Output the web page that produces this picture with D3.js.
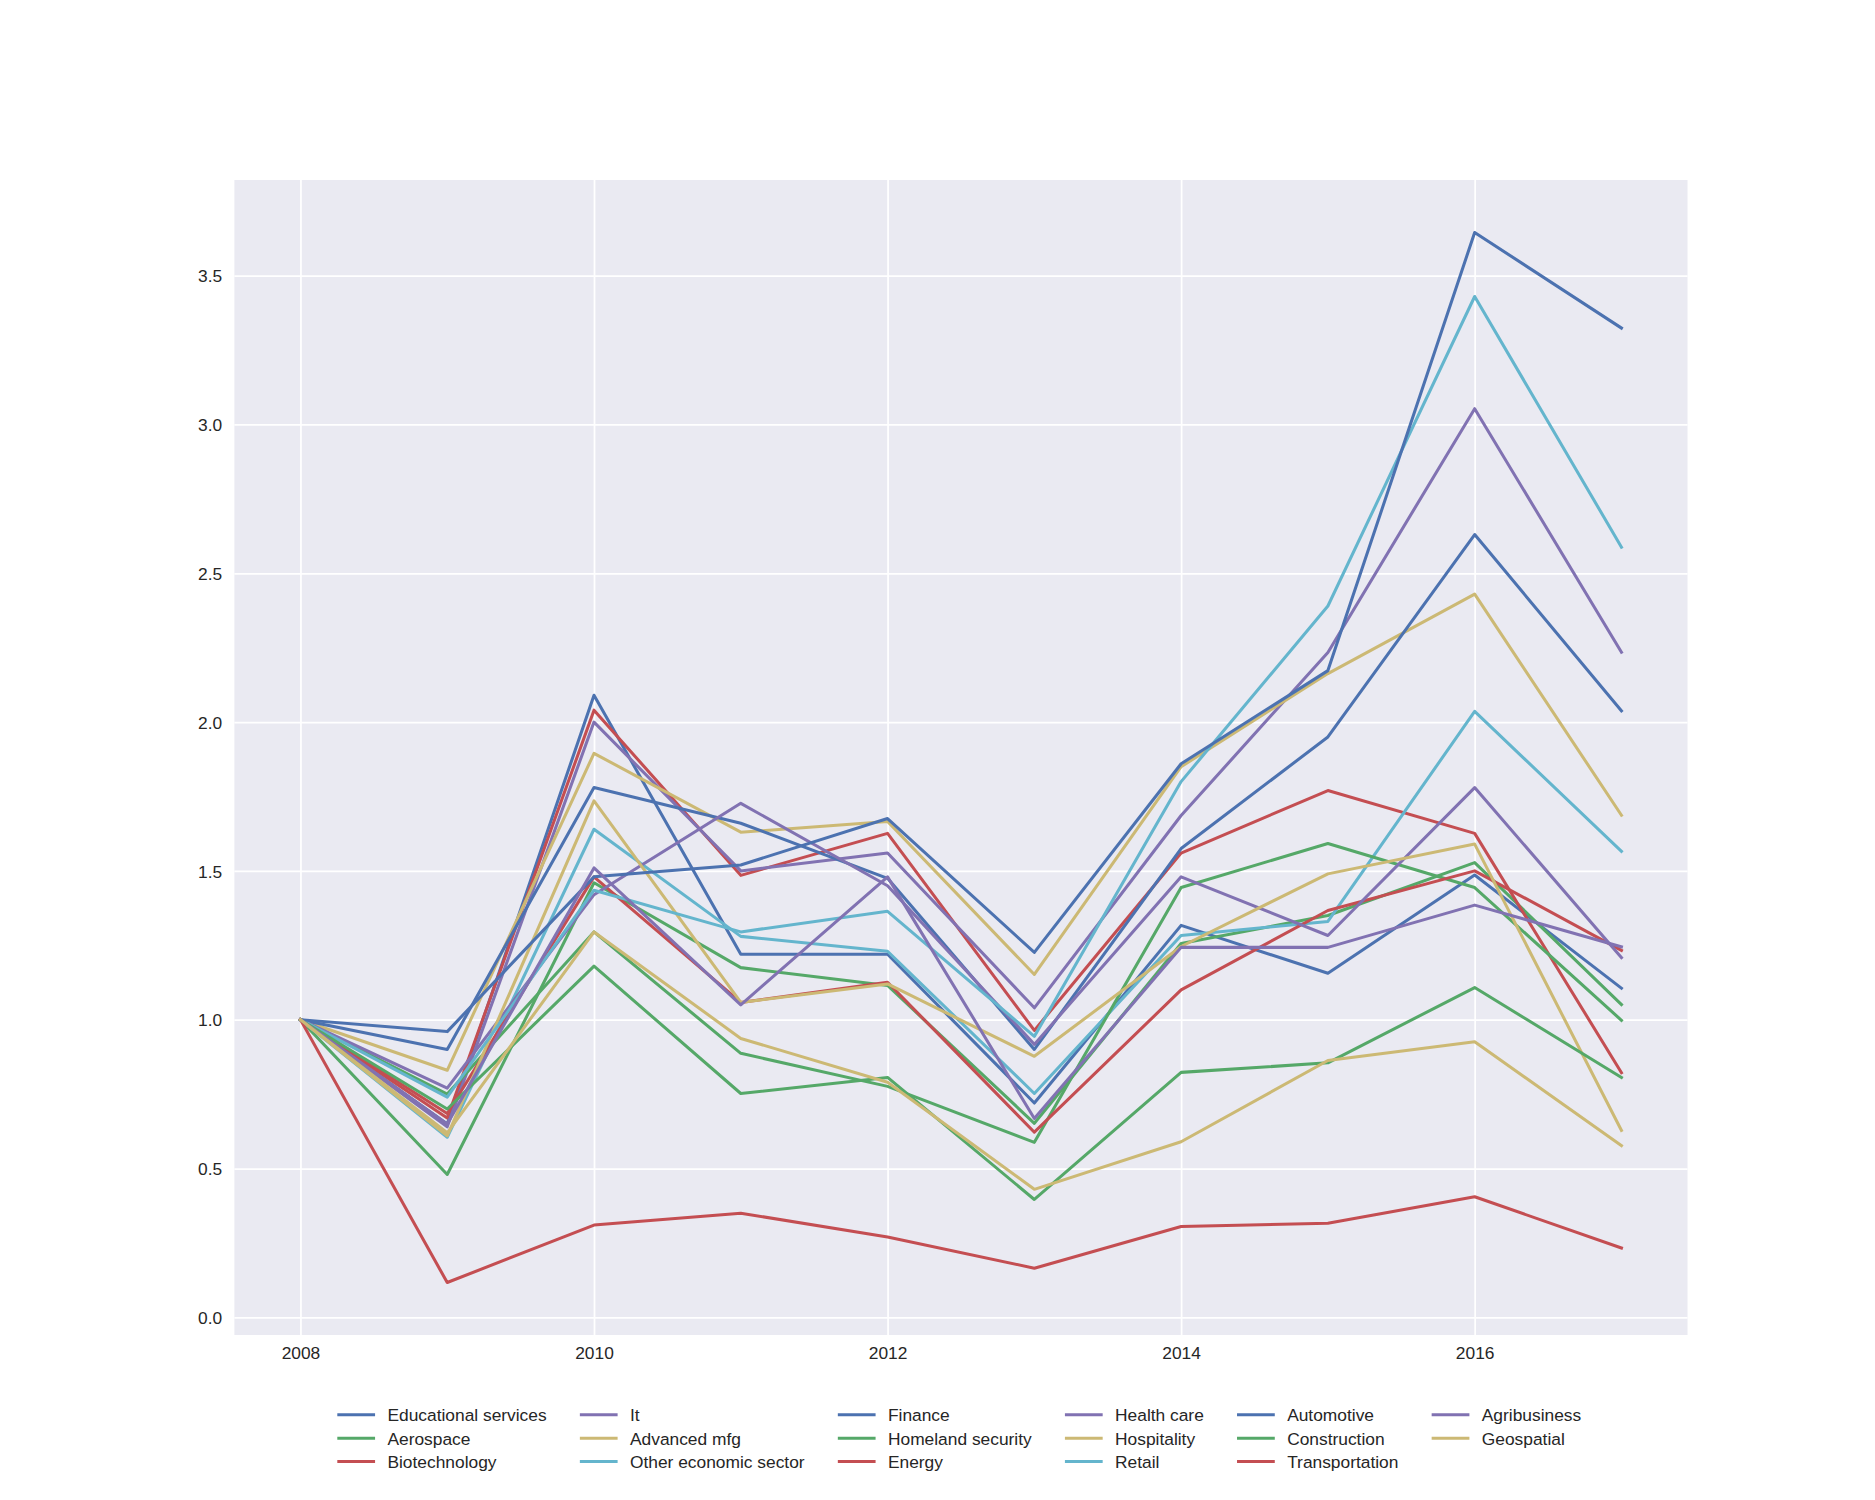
<!DOCTYPE html>
<html>
<head>
<meta charset="utf-8">
<script src="https://d3js.org/d3.v7.min.js"></script>
<style>
  body { margin: 0; background: #ffffff; }
  text { font-family: "Liberation Sans", Arial, sans-serif; fill: #262626; }
</style>
</head>
<body>
<script>
'use strict';

// years on the x axis
const years = [2008, 2009, 2010, 2011, 2012, 2013, 2014, 2015, 2016, 2017];

// one series per sector, normalised to 2008 = 1
const educationalServices = [1.0, 0.65, 2.09, 1.22, 1.22, 0.72, 1.317, 1.156, 1.486, 1.106];
const aerospace = [1.0, 0.48, 1.46, 1.175, 1.115, 0.652, 1.256, 1.35, 1.528, 1.051];
const biotechnology = [1.0, 0.67, 2.04, 1.485, 1.626, 0.964, 1.56, 1.77, 1.626, 0.822];
const itSector = [1.0, 0.64, 2.0, 1.5, 1.56, 1.04, 1.686, 2.234, 3.053, 2.235];
const advancedMfg = [1.0, 0.83, 1.895, 1.63, 1.666, 1.152, 1.85, 2.163, 2.43, 1.687];
const otherEconomicSector = [1.0, 0.605, 1.64, 1.28, 1.23, 0.752, 1.283, 1.33, 2.036, 1.566];
const finance = [1.0, 0.9, 1.78, 1.66, 1.475, 0.9, 1.575, 1.95, 2.63, 2.038];
const homelandSecurity = [1.0, 0.75, 1.295, 0.887, 0.776, 0.588, 1.444, 1.592, 1.444, 0.998];
const energy = [1.0, 0.685, 1.48, 1.058, 1.126, 0.622, 1.1, 1.367, 1.5, 1.233];
const healthCare = [1.0, 0.77, 1.42, 1.727, 1.45, 0.917, 1.48, 1.283, 1.78, 1.209];
const hospitality = [1.0, 0.61, 1.735, 1.058, 1.12, 0.877, 1.246, 1.49, 1.59, 0.628];
const retail = [1.0, 0.74, 1.435, 1.295, 1.364, 0.944, 1.8, 2.39, 3.43, 2.588];
const automotive = [1.0, 0.96, 1.48, 1.52, 1.676, 1.226, 1.86, 2.173, 3.645, 3.324];
const construction = [1.0, 0.7, 1.18, 0.752, 0.806, 0.396, 0.823, 0.855, 1.108, 0.806];
const transportation = [1.0, 0.117, 0.31, 0.35, 0.27, 0.165, 0.305, 0.316, 0.405, 0.233];
const agribusiness = [1.0, 0.65, 1.51, 1.05, 1.48, 0.668, 1.243, 1.243, 1.385, 1.245];
const geospatial = [1.0, 0.62, 1.295, 0.937, 0.79, 0.43, 0.59, 0.863, 0.926, 0.577];

const seriesNames = ["Educational services", "Aerospace", "Biotechnology", "It", "Advanced mfg",
  "Other economic sector", "Finance", "Homeland security", "Energy", "Health care", "Hospitality",
  "Retail", "Automotive", "Construction", "Transportation", "Agribusiness", "Geospatial"];
const seriesValues = [educationalServices, aerospace, biotechnology, itSector, advancedMfg,
  otherEconomicSector, finance, homelandSecurity, energy, healthCare, hospitality,
  retail, automotive, construction, transportation, agribusiness, geospatial];

// seaborn "deep" palette, cycled
const palette = ["#4C72B0", "#55A868", "#C44E52", "#8172B2", "#CCB974", "#64B5CD"];

// tick values
const xTicks = [2008, 2010, 2012, 2014, 2016];
const yTicks = [0, 0.5, 1.0, 1.5, 2.0, 2.5, 3.0, 3.5];

(function () {
  const width = 1875;
  const height = 1500;
  const plot = { left: 234.4, right: 1687.5, top: 180, bottom: 1335 };
  const fontSize = 17.36;

  const svg = d3.select('body')
    .append('svg')
    .attr('width', width)
    .attr('height', height);

  const series = seriesNames.map((name, i) => ({
    name: name,
    color: palette[i % palette.length],
    points: years.map((yr, j) => ({ year: yr, value: seriesValues[i][j] }))
  }));

  // matplotlib style 5% margins on both axes
  const xExt = d3.extent(years);
  const xPad = (xExt[1] - xExt[0]) * 0.05;
  const allValues = seriesValues.flat();
  const yExt = d3.extent(allValues);
  const yPad = (yExt[1] - yExt[0]) * 0.05;

  const xScale = d3.scaleLinear()
    .domain([xExt[0] - xPad, xExt[1] + xPad])
    .range([plot.left, plot.right]);
  const yScale = d3.scaleLinear()
    .domain([yExt[0] - yPad, yExt[1] + yPad])
    .range([plot.bottom, plot.top]);

  // axes background
  svg.append('rect')
    .attr('x', plot.left)
    .attr('y', plot.top)
    .attr('width', plot.right - plot.left)
    .attr('height', plot.bottom - plot.top)
    .attr('fill', '#EAEAF2');

  // grid lines from the axis generators
  const xGrid = d3.axisBottom(xScale)
    .tickValues(xTicks)
    .tickSize(-(plot.bottom - plot.top))
    .tickPadding(12.15)
    .tickFormat(d3.format('d'));
  const gx = svg.append('g')
    .attr('transform', 'translate(0,' + plot.bottom + ')')
    .call(xGrid);

  const yGrid = d3.axisLeft(yScale)
    .tickValues(yTicks)
    .tickSize(-(plot.right - plot.left))
    .tickPadding(12.15)
    .tickFormat(d3.format('.1f'));
  const gy = svg.append('g')
    .attr('transform', 'translate(' + plot.left + ',0)')
    .call(yGrid);

  [gx, gy].forEach((g) => {
    g.select('.domain').remove();
    g.selectAll('.tick line')
      .attr('stroke', '#ffffff')
      .attr('stroke-width', 1.74);
    g.selectAll('.tick text')
      .attr('fill', '#262626')
      .style('font-family', '"Liberation Sans", Arial, sans-serif')
      .style('font-size', fontSize + 'px');
  });
  gx.selectAll('.tick text').attr('dy', '0.71em');
  gy.selectAll('.tick text').attr('dy', '0.36em');

  // the lines
  const line = d3.line()
    .x((d) => xScale(d.year))
    .y((d) => yScale(d.value));

  svg.append('g')
    .selectAll('path')
    .data(series)
    .enter()
    .append('path')
    .attr('d', (d) => line(d.points))
    .attr('fill', 'none')
    .attr('stroke', (d) => d.color)
    .attr('stroke-width', 3.04)
    .attr('stroke-linejoin', 'round')
    .attr('stroke-linecap', 'square');

  // legend: 6 columns, 3 rows, filled column by column
  const nRows = 3;
  const nCols = Math.ceil(series.length / nRows);
  const handleLen = 2.0 * fontSize;
  const handlePad = 0.8 * fontSize;
  const colSpacing = 2.0 * fontSize;
  const rowY = [1414.7, 1438.3, 1461.6];

  const legend = svg.append('g');
  const items = legend.selectAll('g.item')
    .data(series)
    .enter()
    .append('g')
    .attr('class', 'item');

  items.append('text')
    .style('font-size', fontSize + 'px')
    .attr('dy', '0.36em')
    .text((d) => d.name);

  // measure column widths
  const colWidths = d3.range(nCols).map(() => 0);
  items.each(function (d, i) {
    const c = Math.floor(i / nRows);
    const w = d3.select(this).select('text').node().getComputedTextLength();
    colWidths[c] = Math.max(colWidths[c], handleLen + handlePad + w);
  });
  const totalWidth = d3.sum(colWidths) + colSpacing * (nCols - 1);
  const legendLeft = 960 - totalWidth / 2;
  const colX = colWidths.map((w, c) => legendLeft + d3.sum(colWidths.slice(0, c)) + colSpacing * c);

  items.attr('transform', (d, i) => 'translate(' + colX[Math.floor(i / nRows)] + ',' + rowY[i % nRows] + ')');

  items.insert('line', 'text')
    .attr('x1', 0)
    .attr('x2', handleLen)
    .attr('y1', 0)
    .attr('y2', 0)
    .attr('stroke', (d) => d.color)
    .attr('stroke-width', 3.04)
    .attr('stroke-linecap', 'square');

  items.select('text')
    .attr('x', handleLen + handlePad);
})();
</script>
</body>
</html>
